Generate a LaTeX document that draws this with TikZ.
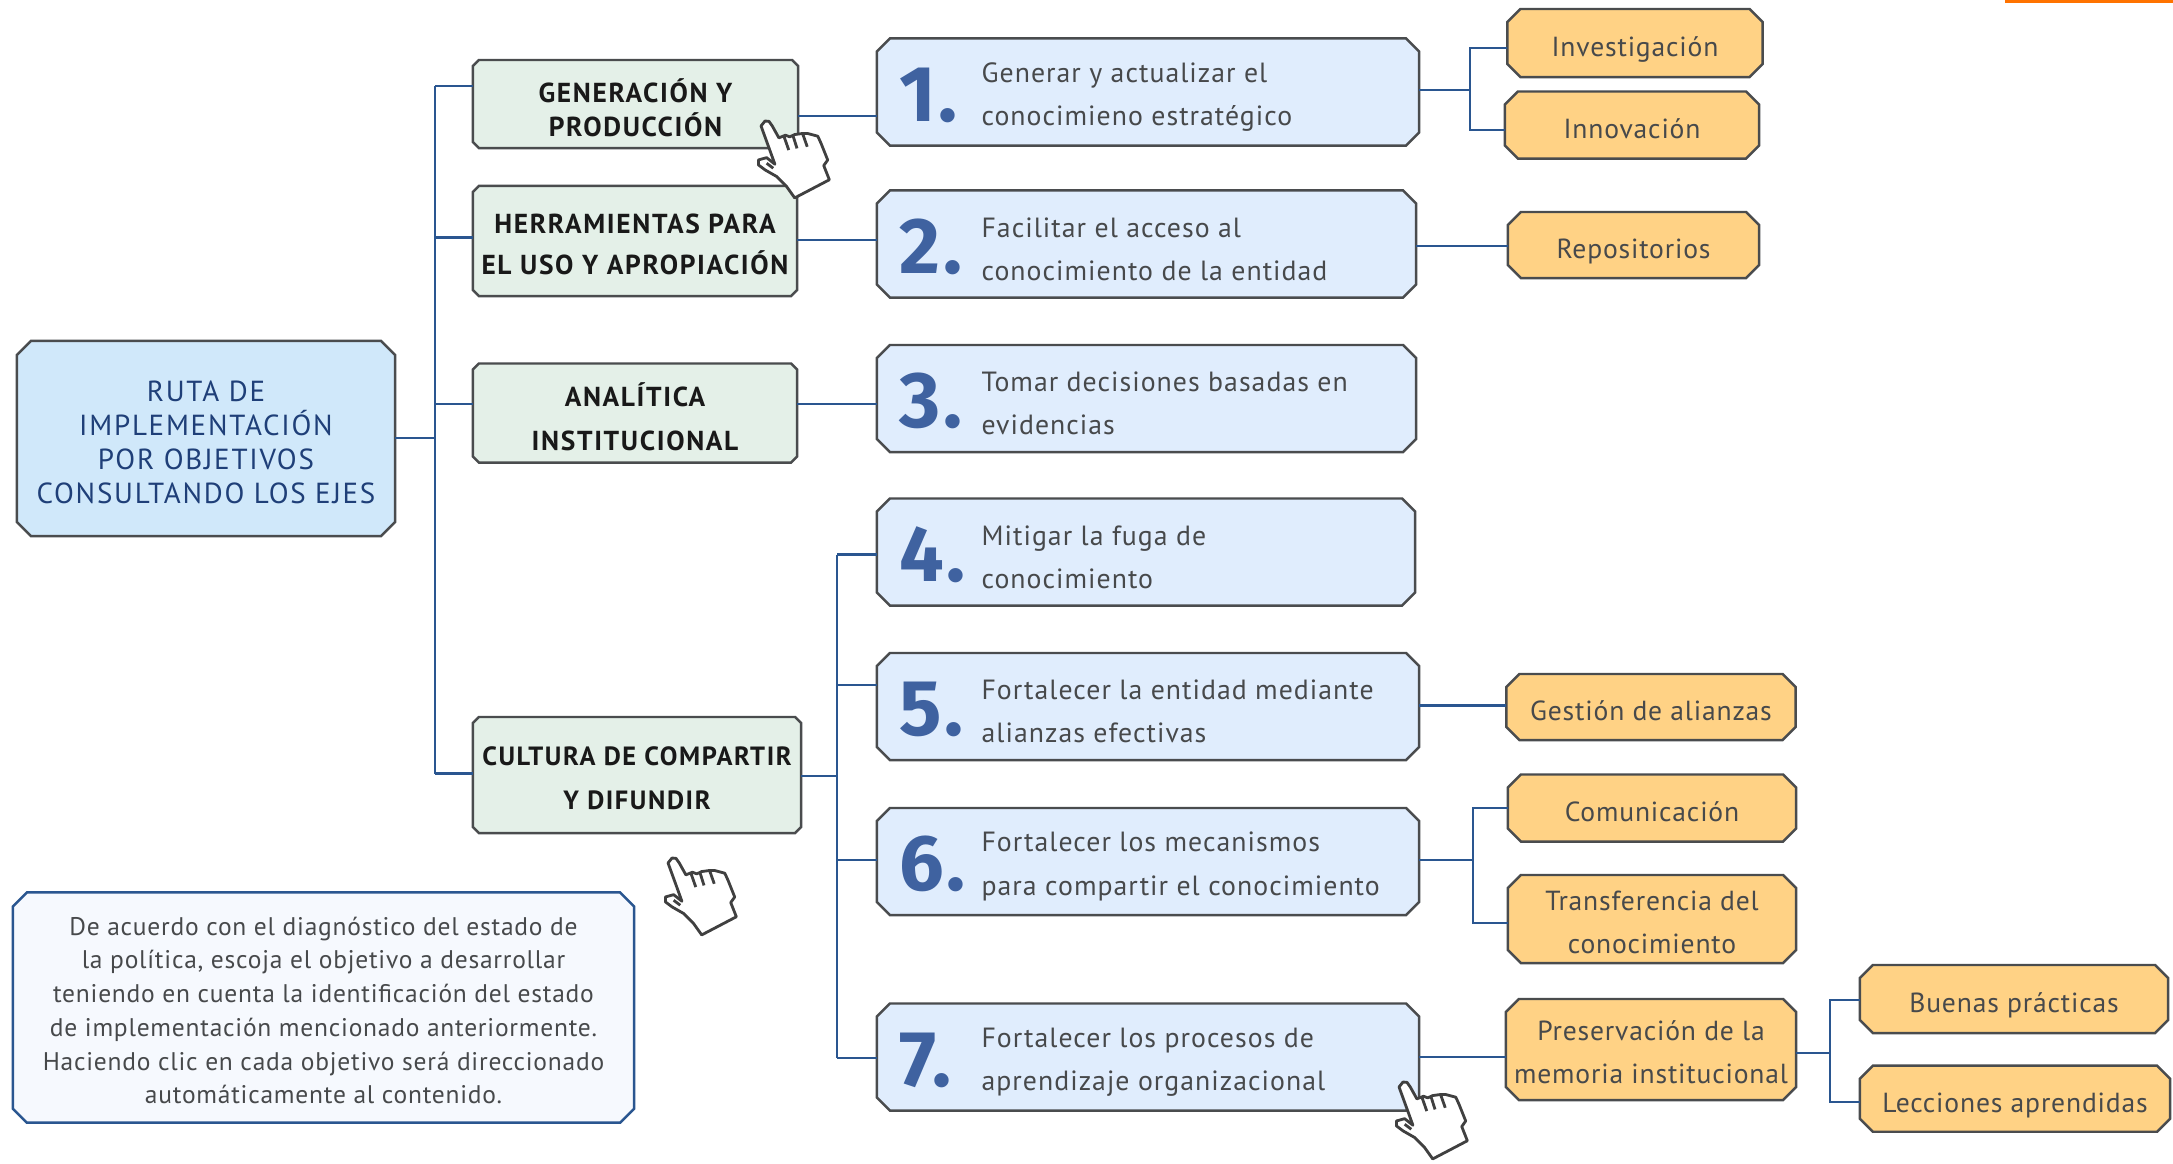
\documentclass[tikz,border=0pt]{standalone}
\usepackage{fontspec}
\setmainfont{PT Sans}
\newfontfamily\capsfont[LetterSpace=6]{PT Sans}
\newfontfamily\bodyfont[LetterSpace=3]{PT Sans}
\newfontfamily\goalfont[LetterSpace=3.7]{PT Sans}
\newfontfamily\numfont[LetterSpace=4]{Fira Sans}
\usetikzlibrary{positioning,calc}
\definecolor{linkblue}{HTML}{2A5690}
\definecolor{numblue}{HTML}{3F62A0}
\definecolor{navytext}{HTML}{1F3F78}
\definecolor{darkedge}{HTML}{4A4C4E}
\definecolor{graytext}{HTML}{47494B}
\newdimen\cutxa \newdimen\cutya \newdimen\cutxb \newdimen\cutyb \newdimen\cutlen
\pgfkeys{/tikz/cut size/.initial=0.13cm}
\pgfkeys{/tikz/text drop/.initial=0pt}
% rectangle with its four corners cut off
\pgfdeclareshape{cutbox}{
  \inheritsavedanchors[from=rectangle]
  \inheritanchorborder[from=rectangle]
  \inheritanchor[from=rectangle]{center}
  \inheritanchor[from=rectangle]{north}
  \inheritanchor[from=rectangle]{south}
  \inheritanchor[from=rectangle]{east}
  \inheritanchor[from=rectangle]{west}
  \anchor{text}{\pgfpoint{0pt}{-\pgfkeysvalueof{/tikz/text drop}}}
  \backgroundpath{
    \pgfextractx{\cutxa}{\southwest}\pgfextracty{\cutya}{\southwest}
    \pgfextractx{\cutxb}{\northeast}\pgfextracty{\cutyb}{\northeast}
    \pgfmathsetlength{\cutlen}{\pgfkeysvalueof{/tikz/cut size}}
    \pgfpathmoveto{\pgfpoint{\cutxa+\cutlen}{\cutya}}
    \pgfpathlineto{\pgfpoint{\cutxb-\cutlen}{\cutya}}
    \pgfpathlineto{\pgfpoint{\cutxb}{\cutya+\cutlen}}
    \pgfpathlineto{\pgfpoint{\cutxb}{\cutyb-\cutlen}}
    \pgfpathlineto{\pgfpoint{\cutxb-\cutlen}{\cutyb}}
    \pgfpathlineto{\pgfpoint{\cutxa+\cutlen}{\cutyb}}
    \pgfpathlineto{\pgfpoint{\cutxa}{\cutyb-\cutlen}}
    \pgfpathlineto{\pgfpoint{\cutxa}{\cutya+\cutlen}}
    \pgfpathclose
  }
}
\begin{document}
\begin{tikzpicture}[x=0.01cm,y=-0.01cm,
      chamfer/.style={cutbox, draw=darkedge, line width=0.7pt,
        inner sep=0pt, outer sep=0pt, align=center},
      rootbox/.style={chamfer, cut size=0.14cm, fill={rgb,255:red,208;green,232;blue,250},
        text=navytext, text drop=0.042cm, font=\capsfont\fontsize{8.25}{9.65}\selectfont},
      axisbox/.style={chamfer, cut size=0.06cm, fill={rgb,255:red,228;green,240;blue,232},
        text={black!90}, text drop=0.035cm, font=\capsfont\bfseries\fontsize{7.8}{9.8}\selectfont},
      goalbox/.style={chamfer, fill={rgb,255:red,224;green,237;blue,253}, minimum height=1.07cm},
      goaltext/.style={anchor=west, align=left, text=graytext,
        font=\goalfont\fontsize{7.9}{12.3}\selectfont},
      goalnum/.style={anchor=base west, text=numblue, inner sep=0pt,
        font=\numfont\bfseries\fontsize{22.5}{23}\selectfont},
      leafbox/.style={chamfer, fill={rgb,255:red,255;green,210;blue,133},
        text=graytext, text drop=0.03cm, font=\bodyfont\fontsize{7.85}{12.2}\selectfont},
      oneline/.style={leafbox, text height=6.5pt, text depth=2pt, text drop=0.055cm},
      notebox/.style={chamfer, cut size=0.14cm, draw=linkblue, fill={rgb,255:red,246;green,249;blue,254},
        text=graytext, text drop=0.03cm, font=\bodyfont\fontsize{7.25}{9.6}\selectfont},
      link/.style={draw=linkblue, line width=0.6pt},
      handcursor/.pic={
        \draw [draw=black!75, fill=white, line width=0.8pt, line join=round, scale=0.33]
        (-12,12) -- (0,-3) -- (12,-2) -- (22,12) -- (42,48) -- (62,40) -- (75,45)
        -- (90,38) -- (112,35) -- (130,35) -- (160,43) -- (170,65) -- (190,115)
        -- (178,132) -- (195,175) -- (90,230) -- (65,195) -- (35,165) -- (0,145)
        -- (-20,130) -- (-20,115) -- (5,108) -- (30,128) -- cycle;
        \draw [draw=black!75, line width=0.8pt, scale=0.33]
        (58,45) -- (72,85) (85,42) -- (97,80) (115,38) -- (128,75) (5,125) -- (25,140);
      }
      ]
    \useasboundingbox (0,0) rectangle (2173,1163);
    \fill [orange!90!red] (2005,0) rectangle (2173,3);

    \node (root) [rootbox, minimum width=3.78cm, minimum height=1.95cm] at (206,438.5)
    {RUTA DE\\IMPLEMENTACIÓN\\POR OBJETIVOS\\CONSULTANDO LOS EJES};

    \node (g1) [axisbox, minimum width=3.25cm, minimum height=0.88cm] at (635.5,104)
    {GENERACIÓN Y\\PRODUCCIÓN};
    \node (g2) [axisbox, minimum width=3.24cm, minimum height=1.10cm] at (635,241)
    {HERRAMIENTAS PARA\\[2pt]EL USO Y APROPIACIÓN};
    \node (g3) [axisbox, minimum width=3.24cm, minimum height=0.99cm] at (635,413)
    {ANALÍTICA\\[2.8pt]INSTITUCIONAL};
    \node (g4) [axisbox, font=\capsfont\bfseries\fontsize{7.5}{9.8}\selectfont,
      minimum width=3.28cm, minimum height=1.16cm] at (637,775)
    {CULTURA DE COMPARTIR\\[2.8pt]Y DIFUNDIR};

    \node (b1) [goalbox, minimum width=5.42cm] at (1148,92) {};
    \node (b2) [goalbox, minimum width=5.39cm] at (1146.5,244) {};
    \node (b3) [goalbox, minimum width=5.39cm] at (1146.5,398.5) {};
    \node (b4) [goalbox, minimum width=5.38cm] at (1146,552) {};
    \node (b5) [goalbox, minimum width=5.42cm] at (1148,706.5) {};
    \node (b6) [goalbox, minimum width=5.42cm] at (1148,861.5) {};
    \node (b7) [goalbox, minimum width=5.42cm] at (1148,1057) {};

    % number and wording inside each goal
    \foreach \goal/\num/\txt in {
      b1/1/{Generar y actualizar el\\conocimieno estratégico},
      b2/2/{Facilitar el acceso al\\conocimiento de la entidad},
      b3/3/{Tomar decisiones basadas en\\evidencias},
      b4/4/{Mitigar la fuga de\\conocimiento},
      b5/5/{Fortalecer la entidad mediante\\alianzas efectivas},
      b6/6/{Fortalecer los mecanismos\\para compartir el conocimiento},
      b7/7/{Fortalecer los procesos de\\aprendizaje organizacional}} {
      \node (\goal num) [goalnum] at ([xshift=0.215cm,yshift=-0.29cm] \goal.west) {\num.};
      \node (\goal txt) [goaltext, inner sep=0pt] at ([xshift=1.04cm,yshift=-0.05cm] \goal.west) {\txt};
    }

    \node (l1) [oneline, minimum width=2.55cm, minimum height=0.68cm] at (1635,43) {Investigación};
    \node (l2) [oneline, minimum width=2.54cm, minimum height=0.67cm] at (1632,125) {Innovación};
    \node (l3) [oneline, minimum width=2.51cm, minimum height=0.66cm] at (1633.5,245) {Repositorios};
    \node (l4) [oneline, minimum width=2.89cm, minimum height=0.66cm] at (1651,707) {Gestión de alianzas};
    \node (l5) [oneline, minimum width=2.88cm, minimum height=0.67cm] at (1652,808) {Comunicación};
    \node (l6) [leafbox, minimum width=2.88cm, minimum height=0.88cm] at (1652,919) {Transferencia del\\conocimiento};
    \node (l7) [leafbox, minimum width=2.90cm, minimum height=1.01cm] at (1651,1049.5) {Preservación de la\\memoria institucional};
    \node (l8) [oneline, minimum width=3.08cm, minimum height=0.68cm] at (2014,999) {Buenas prácticas};
    \node (l9) [oneline, minimum width=3.10cm, minimum height=0.66cm] at (2015,1098.7) {Lecciones aprendidas};

    \node (note) [notebox, minimum width=6.21cm, minimum height=2.30cm] at (323.5,1007.5)
    {De acuerdo con el diagnóstico del estado de\\
      la política, escoja el objetivo a desarrollar\\
      teniendo en cuenta la identificación del estado\\
      de implementación mencionado anteriormente.\\
      Haciendo clic en cada objetivo será direccionado\\
      automáticamente al contenido.};

    % main trunk
    \coordinate (t0) at (435,438);
    \coordinate (t1) at (435,86);
    \coordinate (t2) at (435,237.5);
    \coordinate (t3) at (435,404);
    \coordinate (t4) at (435,773.5);
    \draw [link] (t1) -- (t4);
    \draw [link] (root.east |- t0) -- (t0);
    \draw [link] (t1) -- (t1 -| g1.west);
    \draw [link] (t2) -- (t2 -| g2.west);
    \draw [link] (t3) -- (t3 -| g3.west);
    \draw [link] (t4) -- (t4 -| g4.west);

    \coordinate (a1) at (877,116);
    \coordinate (a2) at (877,240);
    \coordinate (a3) at (877,404);
    \draw [link] (a1 -| g1.east) -- (a1 -| b1.west);
    \draw [link] (a2 -| g2.east) -- (a2 -| b2.west);
    \draw [link] (a3 -| g3.east) -- (a3 -| b3.west);

    % second trunk
    \coordinate (s0) at (837,776);
    \coordinate (s4) at (837,554.5);
    \coordinate (s5) at (837,684.6);
    \coordinate (s6) at (837,860);
    \coordinate (s7) at (837,1058);
    \draw [link] (s4) -- (s7);
    \draw [link] (g4.east |- s0) -- (s0);
    \draw [link] (s4) -- (s4 -| b4.west);
    \draw [link] (s5) -- (s5 -| b5.west);
    \draw [link] (s6) -- (s6 -| b6.west);
    \draw [link] (s7) -- (s7 -| b7.west);

    % goals to leaves
    \coordinate (j1) at (1470,90);
    \coordinate (j1a) at (1470,48);
    \coordinate (j1b) at (1470,130);
    \draw [link] (b1.east |- j1) -- (j1);
    \draw [link] (j1a -| l1.west) -- (j1a) -- (j1b) -- (j1b -| l2.west);
    \coordinate (r2) at (1470,246);
    \draw [link] (r2 -| b2.east) -- (r2 -| l3.west);
    \coordinate (r5) at (1470,705.5);
    \draw [link] (r5 -| b5.east) -- (r5 -| l4.west);
    \coordinate (j6) at (1472.6,860);
    \coordinate (j6a) at (1472.6,808);
    \coordinate (j6b) at (1472.6,922.7);
    \draw [link] (b6.east |- j6) -- (j6);
    \draw [link] (j6a -| l5.west) -- (j6a) -- (j6b) -- (j6b -| l6.west);
    \coordinate (r7) at (1470,1056.7);
    \draw [link] (r7 -| b7.east) -- (r7 -| l7.west);
    \coordinate (j7) at (1830,1052.7);
    \coordinate (j7a) at (1830,1000);
    \coordinate (j7b) at (1830,1102);
    \draw [link] (l7.east |- j7) -- (j7);
    \draw [link] (j7a -| l8.west) -- (j7a) -- (j7b) -- (j7b -| l9.west);

    \pic at (765,122) {handcursor};
    \pic at (672,859) {handcursor};
    \pic at (1403,1083) {handcursor};
\end{tikzpicture}
\end{document}
